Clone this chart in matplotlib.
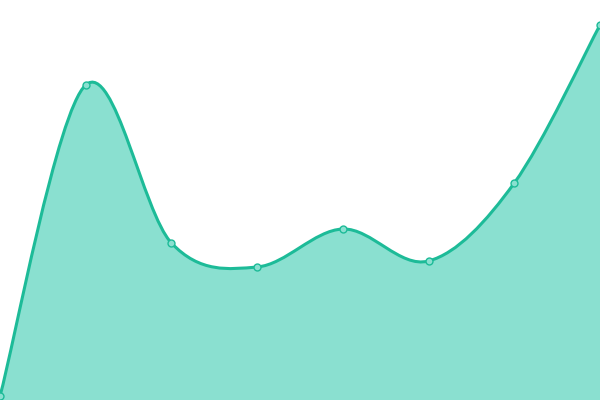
import matplotlib
matplotlib.use("Agg")
import matplotlib.pyplot as plt
from matplotlib.path import Path
from matplotlib.patches import PathPatch
import numpy as np

categories = ["A", "B", "C", "D", "E", "F", "G", "H"]
values = [4, 315, 157, 133, 171, 139, 217, 375]

line_color = "#1dbb98"
fill_color = "#8ae0d0"

fig = plt.figure(figsize=(6, 4), dpi=100)
ax = fig.add_axes([0, 0, 1, 1])
ax.set_xlim(0, len(categories) - 1)
ax.set_ylim(0, 400)
ax.axis("off")

x = np.arange(len(categories), dtype=float)
y = np.array(values, dtype=float)
pts = np.column_stack([x, y])
n = len(pts)

verts = [tuple(pts[0])]
codes = [Path.MOVETO]
for i in range(n - 1):
    p0 = pts[i - 1] if i > 0 else pts[i]
    p1 = pts[i]
    p2 = pts[i + 1]
    p3 = pts[i + 2] if i + 2 < n else pts[i + 1]
    c1 = p1 + (p2 - p0) / 6.0
    c2 = p2 - (p3 - p1) / 6.0
    verts += [tuple(c1), tuple(c2), tuple(p2)]
    codes += [Path.CURVE4] * 3

line_path = Path(verts, codes)
fill_verts = verts + [(x[-1], 0), (x[0], 0), verts[0]]
fill_codes = codes + [Path.LINETO, Path.LINETO, Path.CLOSEPOLY]
ax.add_patch(PathPatch(Path(fill_verts, fill_codes), facecolor=fill_color, edgecolor="none", zorder=1))
ax.add_patch(PathPatch(line_path, facecolor="none", edgecolor=line_color, linewidth=2.2, zorder=2))
ax.plot(x, y, linestyle="none", marker="o", markersize=5, markerfacecolor=fill_color,
        markeredgecolor=line_color, markeredgewidth=1, zorder=3, clip_on=False)

fig.savefig("out.png", dpi=100)
